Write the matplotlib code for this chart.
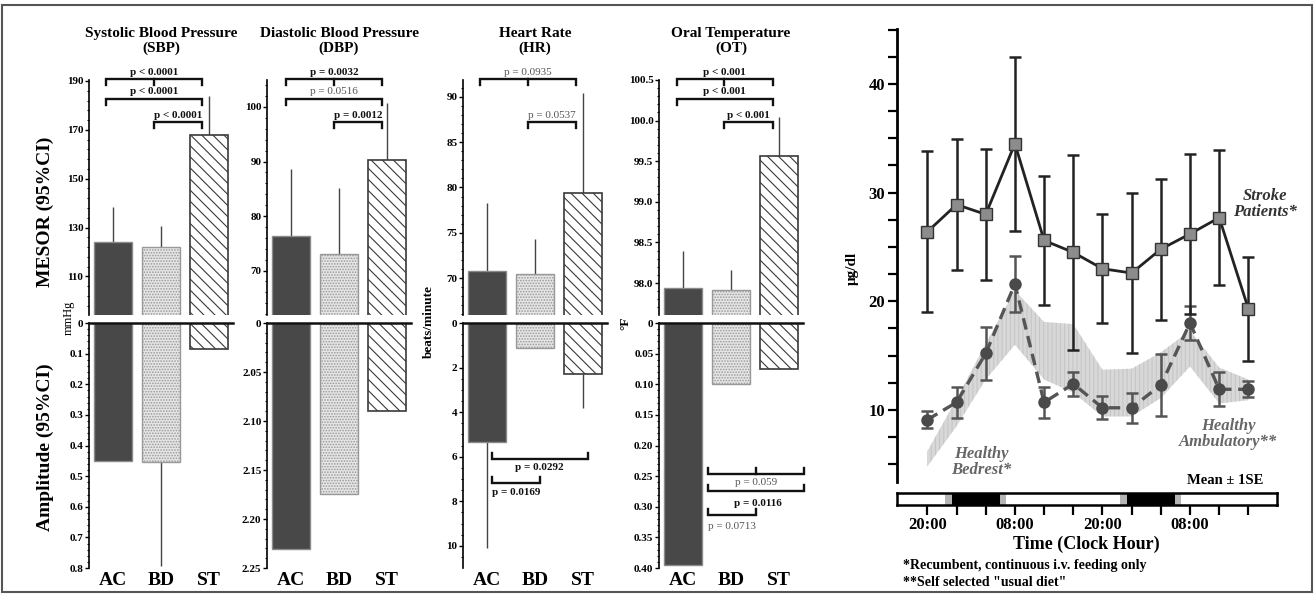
import matplotlib
matplotlib.use('Agg')
import matplotlib.pyplot as plt
import numpy as np
import matplotlib.transforms as mtransforms
from matplotlib.ticker import AutoMinorLocator, MultipleLocator
from matplotlib.patches import Rectangle

plt.rcParams['font.family'] = ['Liberation Serif', 'DejaVu Serif']
plt.rcParams['font.weight'] = 'bold'
plt.rcParams['hatch.linewidth'] = 0.8

W, H = 1314, 595

# ---------------- data ----------------
groups = ['AC', 'BD', 'ST']

sbp_mesor = [124.0, 122.0, 168.0]
sbp_mesor_ci = [138.5, 130.5, 184.0]
sbp_amp = [0.45, 0.455, 0.085]
sbp_amp_ci = [np.nan, 0.795, np.nan]

dbp_mesor = [76.3, 73.0, 90.3]
dbp_mesor_ci = [88.7, 85.1, 100.7]
dbp_amp = [2.231, 2.174, 2.090]
dbp_amp_ci = [np.nan, np.nan, np.nan]

hr_mesor = [70.8, 70.4, 79.4]
hr_mesor_ci = [78.3, 74.3, 90.4]
hr_amp = [5.35, 1.10, 2.28]
hr_amp_ci = [10.1, np.nan, 3.8]

ot_mesor = [97.94, 97.92, 99.57]
ot_mesor_ci = [98.40, 98.16, 100.05]
ot_amp = [0.395, 0.100, 0.075]
ot_amp_ci = [np.nan, np.nan, np.nan]

sbp_p = ['p < 0.0001', 'p < 0.0001', 'p < 0.0001']
dbp_p = ['p = 0.0032', 'p = 0.0516', 'p = 0.0012']
hr_p = ['p = 0.0935', 'p = 0.0537']
hr_amp_p = ['p = 0.0292', 'p = 0.0169']
ot_p = ['p < 0.001', 'p < 0.001', 'p < 0.001']
ot_amp_p = ['p = 0.059', 'p = 0.0116', 'p = 0.0713']

hours = ['20:00', '00:00', '04:00', '08:00', '12:00', '16:00',
         '20:00', '00:00', '04:00', '08:00', '12:00', '16:00']
hour_labels = ['20:00', '', '', '08:00', '', '', '20:00', '', '', '08:00', '', '']
stroke_mean = [26.4, 28.9, 28.0, 34.5, 25.6, 24.5, 23.0, 22.6, 24.8, 26.2, 27.7, 19.3]
stroke_se = [7.4, 6.0, 6.0, 8.0, 5.9, 9.0, 5.0, 7.4, 6.5, 7.4, 6.2, 4.8]
amb_mean = [9.1, 10.7, 15.2, 21.6, 10.7, 12.4, 10.2, 10.2, 12.3, 18.0, 11.9, 11.9]
amb_se = [0.8, 1.4, 2.45, 2.6, 1.45, 1.1, 1.05, 1.4, 2.85, 1.6, 1.55, 0.75]
bed_upper = [6.2, 11.0, 16.1, 21.0, 18.1, 17.9, 13.7, 13.8, 15.3, 17.3, 13.9, 12.8]
bed_lower = [4.8, 8.5, 12.8, 16.0, 12.8, 11.6, 9.4, 9.4, 11.1, 14.0, 10.6, 10.9]
dark_spans = [(0.85, 2.5), (6.85, 8.5)]
twilight_spans = [(0.6, 0.85), (2.5, 2.7), (6.6, 6.85), (8.5, 8.7)]

# ---------------- figure ----------------
fig = plt.figure(figsize=(W / 100, H / 100), dpi=100)


def px_axes(x0, y0, x1, y1):
    return fig.add_axes([x0 / W, 1 - y1 / H, (x1 - x0) / W, (y1 - y0) / H])


bar_styles = [
    dict(facecolor='#484848', edgecolor='#8a8a8a', linewidth=1.0),
    dict(facecolor='#e6e6e6', edgecolor='#999999', hatch='......', linewidth=1.0),
    dict(facecolor='white', edgecolor='#3a3a3a', hatch='\\\\\\', linewidth=1.2),
]

UP_TOP, UP_BOT = 80, 315
LO_TOP, LO_BOT = 323, 568
TICK_FS = 8
P_FS = 8


def draw_bars(ax, vals, ci, base):
    x = np.arange(3)
    for i in range(3):
        ax.bar(x[i], vals[i] - base, bottom=base, width=0.8, zorder=2, **bar_styles[i])
    vals = np.array(vals, float)
    ci = np.array(ci, float)
    err = np.where(np.isnan(ci), 0, ci - vals)
    ax.errorbar(x, vals, yerr=[np.zeros(3), err], fmt='none', ecolor='#444',
                elinewidth=1.0, capsize=0, zorder=1)


def bracket(ax, x0, x1, yf, mid=None, dy=-0.026):
    tr = mtransforms.blended_transform_factory(ax.transData, ax.transAxes)
    ax.plot([x0, x0, x1, x1], [yf + dy, yf, yf, yf + dy], transform=tr, clip_on=False,
            color='#111', lw=1.7, solid_joinstyle='miter', zorder=5)
    if mid is not None:
        ax.plot([mid, mid], [yf, yf + dy], transform=tr, clip_on=False,
                color='#111', lw=1.7, zorder=5)


def plabel(ax, x, yf, s, bold=True):
    tr = mtransforms.blended_transform_factory(ax.transData, ax.transAxes)
    ax.text(x, yf, s, transform=tr, ha='center', va='center', fontsize=P_FS,
            fontweight='bold' if bold else 'normal', color='#111' if bold else '#555',
            zorder=6)


def style_upper(ax, ylim, ticks, fmt='%g'):
    ax.set_xlim(-0.5, 2.5)
    ax.set_ylim(*ylim)
    for s in ['top', 'right', 'bottom']:
        ax.spines[s].set_visible(False)
    ax.spines['left'].set_linewidth(1.2)
    ax.set_xticks([])
    ax.set_yticks(ticks)
    ax.set_yticklabels([fmt % t for t in ticks])
    ax.yaxis.set_minor_locator(AutoMinorLocator(5))
    ax.tick_params(axis='y', which='major', length=3, width=1.0, labelsize=TICK_FS, pad=1)
    ax.tick_params(axis='y', which='minor', length=1.5, width=0.8)


def style_lower(ax, ylim, ticks, labels):
    ax.set_xlim(-0.5, 2.5)
    ax.set_ylim(*ylim)
    for s in ['right', 'bottom']:
        ax.spines[s].set_visible(False)
    ax.spines['left'].set_linewidth(1.2)
    ax.spines['top'].set_linewidth(1.8)
    ax.spines['top'].set_color('#111')
    ax.spines['top'].set_zorder(4)
    ax.set_xticks(range(3))
    ax.set_xticklabels(groups, fontsize=14, fontweight='bold')
    ax.tick_params(axis='x', length=0, pad=3)
    ax.set_yticks(ticks)
    ax.set_yticklabels(labels)
    ax.yaxis.set_minor_locator(AutoMinorLocator(5))
    ax.tick_params(axis='y', which='major', length=3, width=1.0, labelsize=TICK_FS, pad=1)
    ax.tick_params(axis='y', which='minor', length=1.5, width=0.8)


panels = [
    (89, 233, 'Systolic Blood Pressure\n(SBP)'),
    (267, 411, 'Diastolic Blood Pressure\n(DBP)'),
    (463, 607, 'Heart Rate\n(HR)'),
    (659, 803, 'Oral Temperature\n(OT)'),
]

L1, L1t = 1.004, 1.033
L2, L2t = 0.919, 0.949
L3, L3t = 0.821, 0.851
bx0, bmid, bx1 = -0.15, 0.85, 1.85

# ---- SBP ----
x0, x1, title = panels[0]
au = px_axes(x0, UP_TOP, x1, UP_BOT)
draw_bars(au, sbp_mesor, sbp_mesor_ci, 0)
style_upper(au, (94.2, 190.4), [110, 130, 150, 170, 190])
bracket(au, bx0, bx1, L1, mid=bmid); plabel(au, bmid, L1t, sbp_p[0])
bracket(au, bx0, bx1, L2); plabel(au, bmid, L2t, sbp_p[1])
bracket(au, bmid, bx1, L3); plabel(au, 1.35, L3t, sbp_p[2])
al = px_axes(x0, LO_TOP, x1, LO_BOT)
draw_bars(al, sbp_amp, sbp_amp_ci, 0)
t = [0, 0.1, 0.2, 0.3, 0.4, 0.5, 0.6, 0.7, 0.8]
style_lower(al, (0.8, 0), t, ['0'] + ['%.1f' % v for v in t[1:]])
fig.text((x0 + x1) / 2 / W, 1 - 41 / H, title, ha='center', va='center', fontsize=11, linespacing=1.1)

# ---- DBP ----
x0, x1, title = panels[1]
au = px_axes(x0, UP_TOP, x1, UP_BOT)
draw_bars(au, dbp_mesor, dbp_mesor_ci, 0)
style_upper(au, (61.85, 104.95), [70, 80, 90, 100])
bracket(au, -0.11, 1.89, L1, mid=0.9); plabel(au, 0.9, L1t, dbp_p[0])
bracket(au, -0.11, 1.89, L2); plabel(au, 0.9, L2t, dbp_p[1], bold=False)
bracket(au, 0.9, 1.89, L3); plabel(au, 1.4, L3t, dbp_p[2])
al = px_axes(x0, LO_TOP, x1, LO_BOT)
draw_bars(al, dbp_amp, dbp_amp_ci, 2.0)
t = [2.0, 2.05, 2.10, 2.15, 2.20, 2.25]
style_lower(al, (2.25, 2.0), t, ['0'] + ['%.2f' % v for v in t[1:]])
fig.text((x0 + x1) / 2 / W, 1 - 41 / H, title, ha='center', va='center', fontsize=11, linespacing=1.1)

# ---- HR ----
x0, x1, title = panels[2]
au = px_axes(x0, UP_TOP, x1, UP_BOT)
draw_bars(au, hr_mesor, hr_mesor_ci, 0)
style_upper(au, (65.92, 91.86), [70, 75, 80, 85, 90])
bracket(au, bx0, bx1, L1, mid=bmid); plabel(au, bmid, L1t, hr_p[0], bold=False)
bracket(au, bmid, bx1, L3); plabel(au, 1.35, L3t, hr_p[1], bold=False)
al = px_axes(x0, LO_TOP, x1, LO_BOT)
draw_bars(al, hr_amp, hr_amp_ci, 0)
t = [0, 2, 4, 6, 8, 10]
style_lower(al, (10.99, 0), t, ['%d' % v for v in t])
al.yaxis.set_minor_locator(AutoMinorLocator(4))
bracket(al, 0.1, 2.1, 0.445, dy=0.024); plabel(al, 1.1, 0.412, hr_amp_p[0])
bracket(al, 0.1, 1.1, 0.347, dy=0.024); plabel(al, 0.6, 0.31, hr_amp_p[1])
fig.text((x0 + x1) / 2 / W, 1 - 41 / H, title, ha='center', va='center', fontsize=11, linespacing=1.1)

# ---- OT ----
x0, x1, title = panels[3]
au = px_axes(x0, UP_TOP, x1, UP_BOT)
draw_bars(au, ot_mesor, ot_mesor_ci, 0)
style_upper(au, (97.606, 100.5), [98.0, 98.5, 99.0, 99.5, 100.0, 100.5], fmt='%.1f')
bracket(au, -0.13, 1.88, L1, mid=0.86); plabel(au, 0.86, L1t, ot_p[0])
bracket(au, -0.13, 1.88, L2); plabel(au, 0.86, L2t, ot_p[1])
bracket(au, 0.86, 1.88, L3); plabel(au, 1.37, L3t, ot_p[2])
al = px_axes(x0, LO_TOP, x1, LO_BOT)
draw_bars(al, ot_amp, ot_amp_ci, 0)
t = [0, 0.05, 0.10, 0.15, 0.20, 0.25, 0.30, 0.35, 0.40]
style_lower(al, (0.40, 0), t, ['0'] + ['%.2f' % v for v in t[1:]])
bracket(al, 0.53, 2.52, 0.384, mid=1.52, dy=0.024); plabel(al, 1.53, 0.347, ot_amp_p[0], bold=False)
bracket(al, 0.53, 2.52, 0.314, dy=0.024); plabel(al, 1.55, 0.265, ot_amp_p[1])
bracket(al, 0.53, 1.53, 0.216, dy=0.024); plabel(al, 1.02, 0.171, ot_amp_p[2], bold=False)
fig.text((x0 + x1) / 2 / W, 1 - 41 / H, title, ha='center', va='center', fontsize=11, linespacing=1.1)

# left-side axis labels
fig.text(45 / W, 1 - 212 / H, 'MESOR (95%CI)', rotation=90, ha='center', va='center', fontsize=14)
fig.text(45 / W, 1 - 447 / H, 'Amplitude (95%CI)', rotation=90, ha='center', va='center', fontsize=14)
fig.text(69 / W, 1 - 318 / H, 'mmHg', rotation=90, ha='center', va='center', fontsize=9, fontweight='normal')
fig.text(429 / W, 1 - 322 / H, 'beats/minute', rotation=90, ha='center', va='center', fontsize=9.5)
fig.text(625 / W, 1 - 323 / H, '°F', rotation=90, ha='center', va='center', fontsize=9.5)

# ---------------- right panel ----------------
ax = px_axes(897, 29, 1277, 482)
xi = np.arange(len(hours))
ax.fill_between(xi, bed_lower, bed_upper, facecolor='#d8d8d8', edgecolor='#c6c6c6',
                hatch='||||', linewidth=0, zorder=1)
ax.errorbar(xi, amb_mean, yerr=amb_se, fmt='none', ecolor='#555', elinewidth=1.8,
            capsize=4, capthick=1.8, zorder=2)
ax.plot(xi, amb_mean, color='#555', lw=2.4, dashes=(3.5, 2), marker='o', markersize=8,
        markerfacecolor='#4a4a4a', markeredgecolor='#4a4a4a', zorder=3)
ax.errorbar(xi, stroke_mean, yerr=stroke_se, fmt='none', ecolor='#222', elinewidth=1.8,
            capsize=4, capthick=1.8, zorder=4)
ax.plot(xi, stroke_mean, color='#222', lw=2.0, marker='s', markersize=8,
        markerfacecolor='#8c8c8c', markeredgecolor='#333', markeredgewidth=1.0, zorder=5)
ax.set_xlim(-1.04, 11.98)
ax.set_ylim(3.37, 45.06)
for s in ['top', 'right', 'bottom']:
    ax.spines[s].set_visible(False)
ax.spines['left'].set_linewidth(2.0)
ax.set_xticks([])
ax.set_yticks([10, 20, 30, 40])
ax.yaxis.set_minor_locator(MultipleLocator(2.5))
ax.tick_params(axis='y', which='both', length=6.5, width=1.6, labelsize=12, pad=2)
ax.text(11.57, 29.0, 'Stroke\nPatients*', ha='center', va='center', fontsize=12,
        style='italic', color='#333', linespacing=1.0)
ax.text(1.86, 5.2, 'Healthy\nBedrest*', ha='center', va='center', fontsize=12,
        style='italic', color='#666', linespacing=1.0)
ax.text(10.3, 7.8, 'Healthy\nAmbulatory**', ha='center', va='center', fontsize=12,
        style='italic', color='#666', linespacing=1.0)

# light/dark bar
ab = px_axes(897, 493, 1277, 505)
ab.set_xlim(-1.04, 11.98)
ab.set_ylim(0, 1)
for a, b in dark_spans:
    ab.axvspan(a, b, color='black', lw=0)
for a, b in twilight_spans:
    ab.axvspan(a, b, color='#b5b5b5', lw=0)
for s in ab.spines.values():
    s.set_linewidth(1.8)
ab.set_yticks([])
ab.set_xticks(xi)
ab.set_xticklabels(hour_labels, fontsize=12)
ab.tick_params(axis='x', length=7, width=1.6, pad=1.5)

fig.text(1225 / W, 1 - 481 / H, 'Mean ± 1SE', ha='center', va='center', fontsize=10.5)
fig.text(852 / W, 1 - 268 / H, 'μg/dl', rotation=90, ha='center', va='center', fontsize=11)
fig.text(1086 / W, 1 - 544 / H, 'Time (Clock Hour)', ha='center', va='center', fontsize=13)
fig.text(903 / W, 1 - 566 / H, '*Recumbent, continuous i.v. feeding only', ha='left', va='center', fontsize=10)
fig.text(903 / W, 1 - 582 / H, '**Self selected "usual diet"', ha='left', va='center', fontsize=10)

# outer frame
fig.patches.append(Rectangle((2 / W, 3 / H), 1 - 4 / W, 1 - 8 / H, transform=fig.transFigure,
                             fill=False, edgecolor='#555', linewidth=1.5))

fig.savefig('out.png', dpi=100)
